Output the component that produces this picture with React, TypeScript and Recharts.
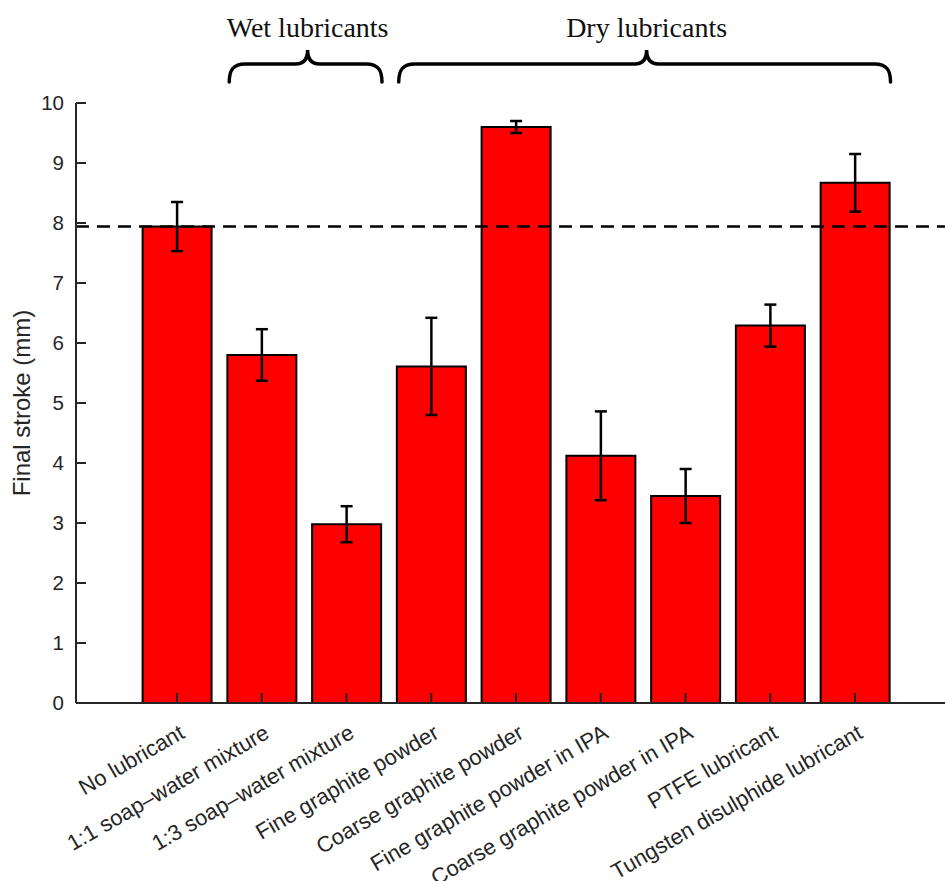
import { ComposedChart, Bar, ErrorBar, XAxis, YAxis, ReferenceLine } from 'recharts'

const categories = [
  'No lubricant',
  '1:1 soap–water mixture',
  '1:3 soap–water mixture',
  'Fine graphite powder',
  'Coarse graphite powder',
  'Fine graphite powder in IPA',
  'Coarse graphite powder in IPA',
  'PTFE lubricant',
  'Tungsten disulphide lubricant',
]
const finalStroke = [7.94, 5.8, 2.98, 5.61, 9.6, 4.12, 3.45, 6.29, 8.67]
const strokeError = [0.41, 0.43, 0.3, 0.81, 0.1, 0.74, 0.45, 0.35, 0.48]
const yTicks = [0, 1, 2, 3, 4, 5, 6, 7, 8, 9, 10]

// lubricant groups, as index ranges into categories
const groups = [
  { name: 'Wet lubricants', from: 1, to: 2 },
  { name: 'Dry lubricants', from: 3, to: 8 },
]

const data = categories.map((name, i) => ({ name, mean: finalStroke[i], err: strokeError[i] }))

// layout
const CHART_W = 970
const CHART_H = 881
const PLOT_LEFT = 76
const PLOT_RIGHT = 956
const PLOT_TOP = 103
const PLOT_BOTTOM = 703
const Y_AXIS_W = 60
const X_AXIS_H = 150
const X_PAD = 58.6
const BAR_W = 69
const BAND = (PLOT_RIGHT - PLOT_LEFT - 2 * X_PAD) / categories.length

const AXIS = '#262626'
const FONT = '"Liberation Sans", Arial, Helvetica, sans-serif'
const X_TICK_GAP = 28
const Y_TICK_GAP = 12
const TICK_LEN = 10

const bandCenter = (i: number) => PLOT_LEFT + X_PAD + BAND * (i + 0.5)

function CategoryTick(props: any) {
  const { x, y, payload } = props
  const tx = x + 9
  const ty = y + 6
  return (
    <g>
      <line x1={x} x2={x} y1={y - X_TICK_GAP} y2={y - X_TICK_GAP - TICK_LEN} stroke={AXIS} strokeWidth={2} />
      <text
        x={tx}
        y={ty}
        transform={`rotate(-30, ${tx}, ${ty})`}
        textAnchor="end"
        fontFamily={FONT}
        fontSize={22}
        fill={AXIS}
      >
        {payload.value}
      </text>
    </g>
  )
}

function TopTick(props: any) {
  const { x, y } = props
  return <line x1={x} x2={x} y1={y + 4} y2={y + 4 + TICK_LEN} stroke={AXIS} strokeWidth={2} />
}

function ValueTick(props: any) {
  const { x, y, payload } = props
  return (
    <g>
      <line x1={x + Y_TICK_GAP} x2={x + Y_TICK_GAP + TICK_LEN} y1={y} y2={y} stroke={AXIS} strokeWidth={2} />
      <text x={x} y={y} dy="0.36em" textAnchor="end" fontFamily={FONT} fontSize={20.5} fill={AXIS}>
        {payload.value}
      </text>
    </g>
  )
}

function YLabel(props: any) {
  const vb = props.viewBox || { x: 16, y: PLOT_TOP, height: PLOT_BOTTOM - PLOT_TOP }
  const lx = vb.x + 14
  const ly = vb.y + vb.height / 2
  return (
    <text
      x={lx}
      y={ly}
      transform={`rotate(-90, ${lx}, ${ly})`}
      textAnchor="middle"
      fontFamily={FONT}
      fontSize={24}
      fill={AXIS}
    >
      Final stroke (mm)
    </text>
  )
}

function bracePath(x0: number, x1: number, xm: number) {
  const yEnd = 82
  const yMid = 64
  const yTip = 50
  return [
    `M ${x0} ${yEnd}`,
    `C ${x0} ${yMid + 6} ${x0 + 4} ${yMid} ${x0 + 16} ${yMid}`,
    `L ${xm - 12} ${yMid}`,
    `C ${xm - 4} ${yMid} ${xm} ${yMid - 5} ${xm} ${yTip}`,
    `C ${xm} ${yMid - 5} ${xm + 4} ${yMid} ${xm + 12} ${yMid}`,
    `L ${x1 - 16} ${yMid}`,
    `C ${x1 - 4} ${yMid} ${x1} ${yMid + 6} ${x1} ${yEnd}`,
  ].join(' ')
}

function GroupBraces() {
  return (
    <svg width={945} height={100} style={{ position: 'absolute', left: 0, top: 0, pointerEvents: 'none' }}>
      {groups.map((g) => {
        const x0 = bandCenter(g.from) - BAR_W / 2 + 2
        const x1 = bandCenter(g.to) + BAR_W / 2 + 1
        const xm = (x0 + x1) / 2 + 2
        return (
          <g key={g.name}>
            <text
              x={xm}
              y={37}
              textAnchor="middle"
              fontFamily='"Liberation Serif", "Times New Roman", serif'
              fontSize={28}
              fill="#111"
            >
              {g.name}
            </text>
            <path d={bracePath(x0, x1, xm)} fill="none" stroke="#000" strokeWidth={3.5} strokeLinecap="round" />
          </g>
        )
      })}
    </svg>
  )
}

export default function App() {
  return (
    <div
      style={{
        position: 'fixed',
        left: 0,
        top: 0,
        width: 945,
        height: 881,
        overflow: 'hidden',
        background: '#fff',
      }}
    >
      <ComposedChart
        width={CHART_W}
        height={CHART_H}
        data={data}
        margin={{
          top: PLOT_TOP,
          left: PLOT_LEFT - Y_AXIS_W,
          right: CHART_W - PLOT_RIGHT,
          bottom: CHART_H - PLOT_BOTTOM - X_AXIS_H,
        }}
      >
        <XAxis
          dataKey="name"
          height={X_AXIS_H}
          interval={0}
          padding={{ left: X_PAD, right: X_PAD }}
          tickSize={0}
          tickMargin={X_TICK_GAP}
          tickLine={false}
          tick={<CategoryTick />}
          axisLine={{ stroke: AXIS, strokeWidth: 2 }}
        />
        <XAxis
          xAxisId="top"
          dataKey="name"
          orientation="top"
          height={0}
          interval={0}
          padding={{ left: X_PAD, right: X_PAD }}
          tickSize={0}
          tickMargin={4}
          tickLine={false}
          tick={<TopTick />}
          axisLine={{ stroke: AXIS, strokeWidth: 2 }}
        />
        <YAxis
          width={Y_AXIS_W}
          domain={[0, 10]}
          ticks={yTicks}
          interval={0}
          tickSize={0}
          tickMargin={Y_TICK_GAP}
          tickLine={false}
          tick={<ValueTick />}
          axisLine={{ stroke: AXIS, strokeWidth: 2 }}
          label={<YLabel />}
        />
        <Bar dataKey="mean" fill="#ff0000" stroke="#000" strokeWidth={2} barSize={BAR_W} isAnimationActive={false}>
          <ErrorBar dataKey="err" width={6} stroke="#000" strokeWidth={2.5} isAnimationActive={false} />
        </Bar>
        <ReferenceLine y={finalStroke[0]} stroke="#000" strokeWidth={2.5} strokeDasharray="13 8" />
      </ComposedChart>
      <GroupBraces />
    </div>
  )
}
